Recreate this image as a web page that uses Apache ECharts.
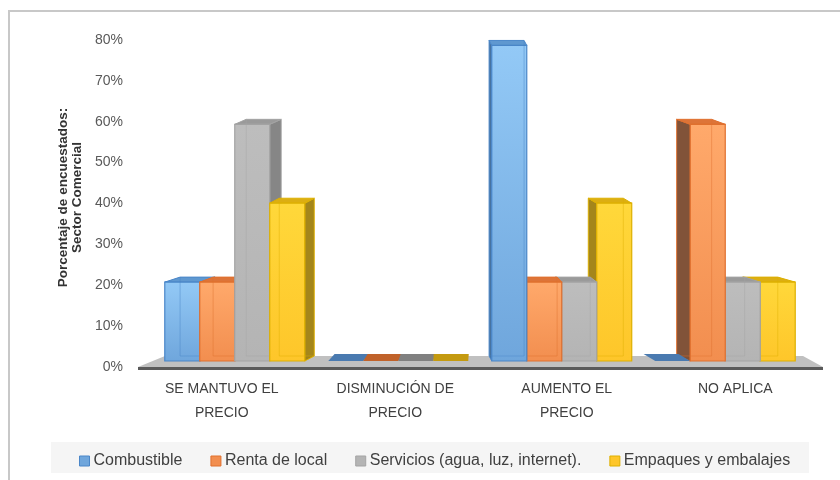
<!DOCTYPE html>
<html><head><meta charset="utf-8">
<script src="https://cdn.jsdelivr.net/npm/echarts@6/dist/echarts.min.js"></script>
<style>html,body{margin:0;padding:0;background:#fff}#c{width:840px;height:480px}</style>
</head><body><div id="c"></div>
<script>
const categories = ['SE MANTUVO EL\nPRECIO', 'DISMINUCIÓN DE\nPRECIO', 'AUMENTO EL\nPRECIO', 'NO APLICA'];
const seriesNames = ['Combustible', 'Renta de local', 'Servicios (agua, luz, internet).', 'Empaques y embalajes'];
const combustible = [20, 0, 80, 0];
const rentaLocal = [20, 0, 20, 60];
const servicios = [60, 0, 20, 20];
const empaques = [40, 0, 40, 20];
const yTicks = [0, 10, 20, 30, 40, 50, 60, 70, 80];

const allValues = [combustible, rentaLocal, servicios, empaques];
const palette = [
  {front:'#6fa6dc', light:'#93c9f6', edge:'#4a86c8', side:'#3d6c9c', top:'#5f98d0', slab:'#4a7ab0'},
  {front:'#f28e4f', light:'#ffa96b', edge:'#e0702e', side:'#7a4a2e', top:'#dd7438', slab:'#c0622a'},
  {front:'#b4b4b4', light:'#bdbdbd', edge:'#a3a3a3', side:'#808080', top:'#9a9a9a', slab:'#808080'},
  {front:'#fec62a', light:'#ffd83a', edge:'#ddb000', side:'#9f800f', top:'#dcae12', slab:'#c49a10'}
];
const FONT = 'Liberation Sans';
const labelShift = [-13, -3, 5, 10];

function makeRender(si){
  const col = palette[si];
  return function(params, api){
    const ci = api.value(0), v = api.value(1);
    const c0 = api.coord([ci, 0]);
    const cv = api.coord([ci, v]);
    const catW = api.size([1, 0])[0];
    const bw = catW * 0.214;
    const cx = c0[0] + (si - 1.5) * bw;
    const x0 = cx - bw / 2, x1 = cx + bw / 2;
    const base = c0[1] - 6;
    const top = base - (c0[1] - cv[1]) * 0.965;
    const cs = params.coordSys;
    const vp = cs.x + cs.width * 0.47;
    const dx = (vp - cx) * 0.055;
    const dy = -5;
    const order = cx < vp ? si : (3 - si);
    const zb = order * 5;
    const children = [];
    if (v === 0) {
      children.push({type:'polygon', z2: zb, shape:{points:[[x0,base],[x0+dx,base+dy-2],[x1+dx,base+dy-2],[x1,base]]},
        style:{fill: col.slab}});
      return {type:'group', children};
    }
    let side;
    if (dx > 0) side = [[x1,top],[x1+dx,top+dy],[x1+dx,base+dy],[x1,base]];
    else side = [[x0,top],[x0+dx,top+dy],[x0+dx,base+dy],[x0,base]];
    children.push({type:'polygon', z2: zb, shape:{points: side}, style:{fill: col.side, stroke: col.edge, lineWidth: 1, opacity: 0.95}});
    children.push({type:'polygon', z2: zb+1, shape:{points:[[x0,top],[x0+dx,top+dy],[x1+dx,top+dy],[x1,top]]},
      style:{fill: col.top, stroke: col.edge, lineWidth: 1}});
    children.push({type:'rect', z2: zb+2, shape:{x:x0, y:top, width:bw, height:base-top},
      style:{fill: new echarts.graphic.LinearGradient(0,0,0,1,[{offset:0,color:col.light},{offset:1,color:col.front}]),
        stroke: col.edge, lineWidth: 1.2}});
    const bx = dx > 0 ? x0 + dx : x1 + dx;
    children.push({type:'polyline', z2: zb+3, shape:{points:[[bx, top+dy],[bx, base+dy],[dx>0?x1+dx:x0+dx, base+dy]]},
      style:{stroke: col.edge, lineWidth: 1, opacity: 0.45, fill: null}});
    return {type:'group', children};
  };
}

const chart = echarts.init(document.getElementById('c'), null, {renderer:'canvas'});
const series = allValues.map((vals, si) => ({
  name: seriesNames[si],
  type: 'custom',
  renderItem: makeRender(si),
  itemStyle: {color: palette[si].front, borderColor: palette[si].edge},
  encode: {x: 0, y: 1},
  data: vals.map((v, i) => [i, v])
}));

const rich = {};
labelShift.forEach((s, i) => {
  rich['c' + i] = {fontFamily: FONT, fontSize: 14, color: '#404040', lineHeight: 24,
    padding: s < 0 ? [0, -2 * s, 0, 0] : [0, 0, 0, 2 * s]};
});

const GRID = {left: 153, right: 33, top: 40, bottom: 113};
chart.setOption({
  backgroundColor: '#ffffff',
  animation: false,
  grid: GRID,
  legend: {
    left: 74, top: 448, itemWidth: 10, itemHeight: 10, itemGap: 28,
    icon: 'rect',
    textStyle: {fontFamily: FONT, fontSize: 16, color: '#404040', padding: [0,0,0,-1]},
    data: seriesNames.map((n, i) => ({name: n, itemStyle: {color: palette[i].front, borderColor: palette[i].edge, borderWidth: 1}}))
  },
  xAxis: {
    type: 'category', data: categories,
    axisLine: {show: false}, axisTick: {show: false}, splitLine: {show: false},
    axisLabel: {fontFamily: FONT, fontSize: 14, color: '#404040', lineHeight: 24, margin: 10, interval: 0,
      rich,
      formatter: (val, idx) => val.split('\n').map(l => '{c' + idx + '|' + l + '}').join('\n')}
  },
  yAxis: {
    type: 'value', min: 0, max: 80, interval: 10,
    axisLine: {show: false}, axisTick: {show: false}, splitLine: {show: false},
    axisLabel: {fontFamily: FONT, fontSize: 14, color: '#595959', margin: 30,
      formatter: v => yTicks.indexOf(v) >= 0 ? v + '%' : ''},
    name: 'Porcentaje de encuestados:\nSector Comercial',
    nameLocation: 'middle', nameRotate: 90, nameGap: 67,
    nameTextStyle: {fontFamily: FONT, fontSize: 13.5, fontWeight: 'bold', color: '#333333', lineHeight: 14, padding: [0, 0, 0, 12]}
  },
  series
});

function drawDecor(){
  const p0 = chart.convertToPixel({gridIndex: 0}, [0, 0]);
  const y0 = p0[1];
  const L = GRID.left, R = 840 - GRID.right;
  chart.setOption({
    graphic: [
      {type:'rect', z: -10, silent: true, shape:{x:9, y:11, width:860, height:500}, style:{fill:null, stroke:'#c8c8c8', lineWidth:2}},
      {type:'rect', z: -10, silent: true, shape:{x:51, y:442, width:758, height:31}, style:{fill:'#f5f5f5'}},
      {type:'polygon', z: -5, silent: true, shape:{points:[[L-15, y0], [L+12, y0-11], [R-4, y0-11], [R+16, y0]]}, style:{fill:'#c0c0c0'}},
      {type:'rect', z: -5, silent: true, shape:{x:L-15, y:y0, width:R-L+31, height:3}, style:{fill:'#5a5a5a'}}
    ]
  });
}
drawDecor();
</script>
</body></html>
